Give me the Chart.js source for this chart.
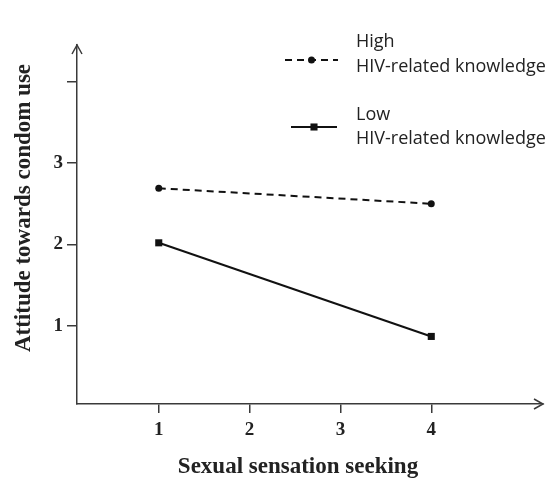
<!DOCTYPE html>
<html><head><meta charset="utf-8">
<script src="https://cdn.jsdelivr.net/npm/chart.js@4/dist/chart.umd.min.js"></script>
<style>html,body{margin:0;padding:0;background:#fff}#wrap{width:553px;height:480px}</style>
</head><body><div id="wrap"><canvas id="c" width="553" height="480"></canvas></div>
<script>
const xValues = [1, 4];
const highKnowledge = [2.69, 2.50];
const lowKnowledge = [2.02, 0.87];
const seriesLabels = [['High', 'HIV-related knowledge'], ['Low', 'HIV-related knowledge']];
const xTicks = [1, 2, 3, 4];
const yTicks = [1, 2, 3, 4];
const yTickLabels = ['1', '2', '3', ''];
const xTitle = 'Sexual sensation seeking';
const yTitle = 'Attitude towards condom use';

const AXIS = '#3a3a3a';
const INK = '#111';
const SERIF = 'Liberation Serif';

const toPts = (vals) => vals.map((v, i) => ({ x: xValues[i], y: v }));

const legendPlugin = {
  id: 'customLegend',
  afterDraw(chart) {
    const ctx = chart.ctx;
    const layout = [
      { lineY: 60, x0: 285, x1: 338, textX: 356, base: [47, 72] },
      { lineY: 127, x0: 291, x1: 337, textX: 356, base: [120, 144] }
    ];
    chart.data.datasets.forEach((ds, i) => {
      const L = layout[i];
      ctx.save();
      ctx.strokeStyle = ds.borderColor;
      ctx.lineWidth = ds.borderWidth;
      ctx.setLineDash(ds.borderDash || []);
      ctx.beginPath();
      ctx.moveTo(L.x0, L.lineY);
      ctx.lineTo(L.x1, L.lineY);
      ctx.stroke();
      ctx.setLineDash([]);
      ctx.fillStyle = ds.pointBackgroundColor;
      const cx = (L.x0 + L.x1) / 2;
      if (ds.pointStyle === 'rect') {
        const s = ds.pointRadius * Math.SQRT1_2;
        ctx.fillRect(cx - s, L.lineY - s, 2 * s, 2 * s);
      } else {
        ctx.beginPath();
        ctx.arc(cx, L.lineY, ds.pointRadius, 0, Math.PI * 2);
        ctx.fill();
      }
      ctx.fillStyle = '#222';
      ctx.font = '18px "Open Sans"';
      ctx.textBaseline = 'alphabetic';
      ctx.textAlign = 'left';
      seriesLabels[i].forEach((t, k) => ctx.fillText(t, L.textX, L.base[k]));
      ctx.restore();
    });
  }
};

const decorPlugin = {
  id: 'decor',
  afterDraw(chart) {
    const { ctx, chartArea: a } = chart;
    ctx.save();
    ctx.strokeStyle = AXIS;
    ctx.lineWidth = 1.5;
    ctx.beginPath();
    ctx.moveTo(a.left - 5, a.top + 9);
    ctx.lineTo(a.left, a.top);
    ctx.lineTo(a.left + 5, a.top + 9);
    ctx.moveTo(a.right - 9, a.bottom - 5);
    ctx.lineTo(a.right, a.bottom);
    ctx.lineTo(a.right - 9, a.bottom + 5);
    ctx.stroke();
    // axis titles, placed as in the original figure
    ctx.fillStyle = '#222';
    ctx.font = 'bold 23px "' + SERIF + '"';
    ctx.textAlign = 'center';
    ctx.textBaseline = 'alphabetic';
    ctx.fillText(xTitle, 298, 473);
    ctx.translate(24, 208);
    ctx.rotate(-Math.PI / 2);
    ctx.textBaseline = 'middle';
    ctx.fillText(yTitle, 0, 0);
    ctx.restore();
  }
};

new Chart(document.getElementById('c'), {
  type: 'line',
  data: {
    datasets: [
      {
        label: 'High HIV-related knowledge',
        data: toPts(highKnowledge),
        borderColor: INK,
        borderWidth: 2,
        borderDash: [7, 5],
        pointStyle: 'circle',
        pointRadius: 3.5,
        pointBackgroundColor: INK,
        pointBorderColor: INK,
        pointBorderWidth: 0,
        fill: false,
        tension: 0
      },
      {
        label: 'Low HIV-related knowledge',
        data: toPts(lowKnowledge),
        borderColor: INK,
        borderWidth: 2,
        pointStyle: 'rect',
        pointRadius: 5,
        pointBackgroundColor: INK,
        pointBorderColor: INK,
        pointBorderWidth: 0,
        fill: false,
        tension: 0
      }
    ]
  },
  options: {
    responsive: false,
    animation: false,
    events: [],
    layout: { padding: { top: 45, right: 10, left: 0, bottom: 0 } },
    plugins: { legend: { display: false }, tooltip: { enabled: false } },
    scales: {
      x: {
        type: 'linear',
        min: 0.1,
        max: 5.23,
        afterBuildTicks: (s) => { s.ticks = xTicks.map(v => ({ value: v })); },
        afterFit: (s) => { s.height = 76; },
        grid: { drawOnChartArea: false, drawTicks: true, tickLength: 9, color: AXIS, lineWidth: 1.5 },
        border: { display: true, color: AXIS, width: 1.5 },
        ticks: {
          padding: 6,
          color: '#222',
          font: { family: SERIF, weight: 'bold', size: 19 },
          callback: (v) => String(v)
        },
        title: { display: false, text: xTitle }
      },
      y: {
        type: 'linear',
        min: 0.04,
        max: 4.45,
        afterBuildTicks: (s) => { s.ticks = yTicks.map(v => ({ value: v })); },
        afterFit: (s) => { s.width = 77; },
        grid: { drawOnChartArea: false, drawTicks: true, tickLength: 10, color: AXIS, lineWidth: 1.5 },
        border: { display: true, color: AXIS, width: 1.5 },
        ticks: {
          padding: 4,
          color: '#222',
          font: { family: SERIF, weight: 'bold', size: 19 },
          callback: (v) => yTickLabels[yTicks.indexOf(v)] ?? ''
        },
        title: { display: false, text: yTitle }
      }
    }
  },
  plugins: [legendPlugin, decorPlugin]
});
</script>
</body></html>
